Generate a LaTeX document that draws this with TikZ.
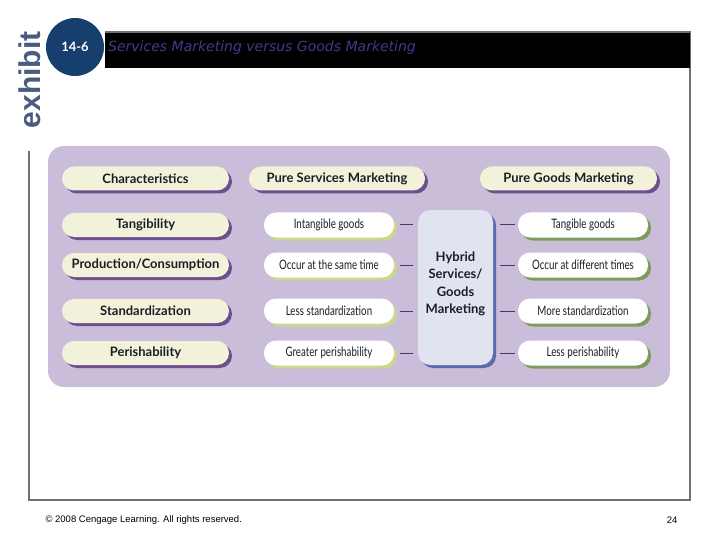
\documentclass[tikz,border=0pt]{standalone}
\usepackage{fontspec}
\setmainfont{Lato}
\newfontfamily\titlefont{DejaVu Sans}
\newfontfamily\condfont[FakeStretch=0.75]{Lato}
\newfontfamily\footfont{Liberation Sans}
\usetikzlibrary{shadows}
\usepackage{xcolor}
\definecolor{panelpurple}{HTML}{C9BDD9}
\definecolor{creambox}{HTML}{F2F2DA}
\definecolor{shadowpurple}{HTML}{6E4E8C}
\definecolor{shadowlime}{HTML}{CBD68E}
\definecolor{shadowgreen}{HTML}{7F9A5C}
\definecolor{hybridfill}{HTML}{E0E3F0}
\definecolor{shadowblue}{HTML}{5B6BA8}
\definecolor{linkpurple}{HTML}{5A2D6E}
\definecolor{exhibitblue}{HTML}{4A5B80}
\definecolor{circleblue}{HTML}{163F6E}
\definecolor{titleblue}{HTML}{3C3C8E}
\definecolor{framegray}{HTML}{707070}
\definecolor{inkdark}{HTML}{1C1C28}

\begin{document}
\begin{tikzpicture}[
  x=1pt, y=-1pt,
  pill/.style={rounded corners=12pt, inner sep=0pt, minimum height=24pt,
               align=center, text=inkdark},
  charbox/.style={pill, fill=creambox, minimum width=167pt,
                  font=\bfseries\fontsize{13}{15}\selectfont,
                  drop shadow={shadow xshift=3pt, shadow yshift=-3pt,
                               fill=shadowpurple, opacity=1}},
  svcbox/.style={pill, fill=white, minimum width=130pt, minimum height=25pt,
                 font=\condfont\fontsize{13}{15}\selectfont,
                 drop shadow={shadow xshift=3pt, shadow yshift=-3pt,
                              fill=shadowlime, opacity=1}},
  goodbox/.style={svcbox,
                  drop shadow={shadow xshift=3pt, shadow yshift=-3pt,
                               fill=shadowgreen, opacity=1}},
  linkline/.style={draw=linkpurple, line width=1pt},
]
\useasboundingbox (0,0) rectangle (720,540);

% === Frame and title bar ===
\draw[framegray, line width=1.5pt] (105,32) -- (690,32) -- (690,500)
  -- (29,500) -- (29,151);
\fill[black] (105,33) rectangle (690,68);
\node[rotate=90, text=exhibitblue, inner sep=0pt,
      font=\footfont\bfseries\fontsize{30}{30}\selectfont] (exhibit) at (30,80) {exhibit};
\node[circle, fill=circleblue, minimum size=58pt, text=white,
      font=\bfseries\fontsize{13}{13}\selectfont] (number) at (75,47) {14-6};
\node[anchor=west, text=titleblue, inner sep=0pt,
      font=\titlefont\itshape\fontsize{14}{16}\selectfont] (title) at (108,48)
  {Services Marketing versus Goods Marketing};

% === Purple panel ===
\fill[panelpurple, rounded corners=16pt] (48,146) rectangle (670,387);

% === Headers ===
\node[charbox] (chars) at (145.5,178.5) {Characteristics};
\node[charbox, minimum width=176pt] (pureserv) at (337,178.5) {Pure Services Marketing};
\node[charbox, minimum width=177pt] (puregood) at (568.5,178.5) {Pure Goods Marketing};

% === Characteristics ===
\node[charbox] (tang) at (145.5,225) {Tangibility};
\node[charbox] (prod) at (145.5,265) {Production/Consumption};
\node[charbox] (stand) at (145.5,311) {Standardization};
\node[charbox] (perish) at (145.5,353) {Perishability};

% === Hybrid ===
\node[rounded corners=12pt, fill=hybridfill, minimum width=75pt, minimum height=155pt,
      align=center, text=inkdark, font=\bfseries\fontsize{13}{17.5}\selectfont,
      drop shadow={shadow xshift=3pt, shadow yshift=-3pt, fill=shadowblue, opacity=1}]
  (hybrid) at (455.5,287.5) {Hybrid\\Services/\\Goods\\Marketing\\[-8pt]};

% === Pure services / pure goods ===
\node[svcbox] (svc1) at (329,225) {Intangible goods};
\node[svcbox] (svc2) at (329,265) {Occur at the same time};
\node[svcbox] (svc3) at (329,311) {Less standardization};
\node[svcbox] (svc4) at (329,353) {Greater perishability};

\node[goodbox] (good1) at (583,225) {Tangible goods};
\node[goodbox] (good2) at (583,265) {Occur at different times};
\node[goodbox] (good3) at (583,311) {More standardization};
\node[goodbox] (good4) at (583,353) {Less perishability};

\foreach \i in {1,...,4} {
  \draw[linkline, shorten <=6pt, shorten >=5pt] (svc\i.east) -- (svc\i.east -| hybrid.west);
  \draw[linkline, shorten <=7pt, shorten >=3pt] (good\i.west -| hybrid.east) -- (good\i.west);
}

% === Footer ===
\node[anchor=west, font=\footfont\fontsize{9.5}{11}\selectfont] (copy) at (42,520)
  {\textcopyright{} 2008 Cengage Learning. All rights reserved.};
\node[anchor=east, font=\footfont\fontsize{9.5}{11}\selectfont] (page) at (681,520) {24};

\end{tikzpicture}
\end{document}
